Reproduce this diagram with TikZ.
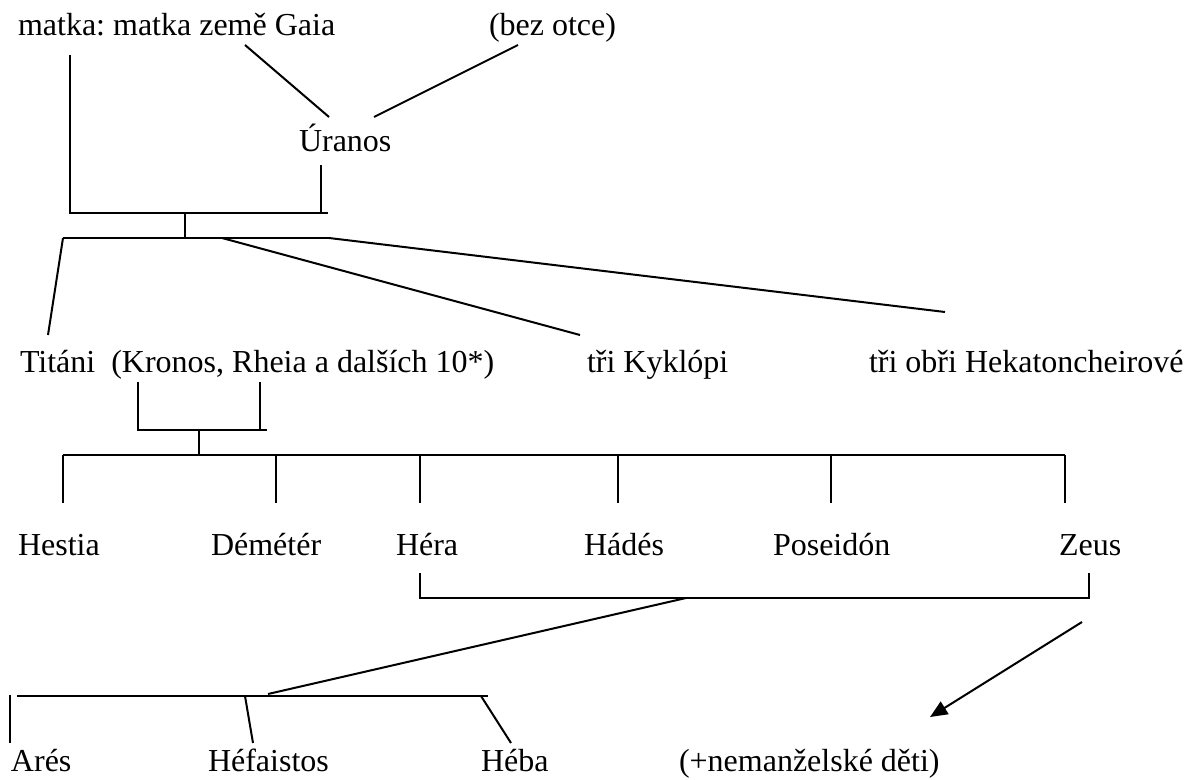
\documentclass[tikz,border=0pt]{standalone}
\usepackage{fontspec}
\setmainfont{Liberation Serif}
\usetikzlibrary{arrows.meta}
\frenchspacing

\tikzset{every picture/.style={line width=1.5pt}}
\tikzset{godname/.style={anchor=base west,inner sep=0pt,font=\fontsize{24}{28}\selectfont}}

\begin{document}
\begin{tikzpicture}[x=0.75pt,y=0.75pt,yscale=-1,xscale=1]
	%set diagram left start at 0, and has height of 780
	\useasboundingbox (0,0) rectangle (1184,780);
	
	% Text Node
	\node[godname] (gaia) at (17,36) {matka: matka země Gaia};
	% Text Node
	\node[godname] (bezotce) at (488,36) {(bez otce)};
	% Text Node
	\node[godname] (uranos) at (298,152) {Úranos};
	% Text Node
	\node[godname] (titani) at (19,373) {Titáni\ \ (Kronos, Rheia a dalších 10*)};
	% Text Node
	\node[godname] (kyklopi) at (586,373) {tři Kyklópi};
	% Text Node
	\node[godname] (hekaton) at (868,373) {tři obři Hekatoncheirové};
	% Text Node
	\node[godname] (hestia) at (17,555) {Hestia};
	% Text Node
	\node[godname] (demeter) at (210,555) {Démétér};
	% Text Node
	\node[godname] (hera) at (395,555) {Héra};
	% Text Node
	\node[godname] (hades) at (583,555) {Hádés};
	% Text Node
	\node[godname] (poseidon) at (772,555) {Poseidón};
	% Text Node
	\node[godname] (zeus) at (1058,555) {Zeus};
	% Text Node
	\node[godname] (ares) at (10,771) {Arés};
	% Text Node
	\node[godname] (hefaistos) at (207,771) {Héfaistos};
	% Text Node
	\node[godname] (heba) at (480,771) {Héba};
	% Text Node
	\node[godname] (nemanzel) at (678,771) {(+nemanželské děti)};
	
	% Coordinates
	\coordinate (gaiatop) at (70,55);
	\coordinate (gaiacorner) at (70,213);
	\coordinate (uranostop) at (321,165);
	\coordinate (uranosfoot) at (321,213);
	\coordinate (parentsend) at (328,213);
	\coordinate (parentsmid) at (185,213);
	\coordinate (childrenmid) at (185,238);
	\coordinate (childrenleft) at (63,238);
	\coordinate (childrenkyk) at (222,238);
	\coordinate (childrenright) at (329,238);
	\coordinate (titanitop) at (48,335);
	\coordinate (kyklopitop) at (580,335);
	\coordinate (hekatontop) at (945,312);
	\coordinate (gaiadiag) at (245,45);
	\coordinate (uranosleft) at (329,117);
	\coordinate (uranosright) at (374,117);
	\coordinate (bezdiag) at (518,45);
	\coordinate (kronos) at (138,382);
	\coordinate (kronoscorner) at (138,430);
	\coordinate (rheia) at (260,382);
	\coordinate (rheiafoot) at (260,430);
	\coordinate (kronosend) at (267,430);
	\coordinate (kronosmid) at (199,430);
	\coordinate (olympmid) at (199,455);
	\coordinate (olympleft) at (63,455);
	\coordinate (olympright) at (1065,455);
	\coordinate (herafoot) at (420,573);
	\coordinate (heracorner) at (420,598);
	\coordinate (zeusfoot) at (1089,573);
	\coordinate (zeuscorner) at (1089,598);
	\coordinate (marriagemid) at (686,598);
	\coordinate (sonsjoin) at (268,694);
	\coordinate (sonsleft) at (17,696);
	\coordinate (sonsright) at (488,696);
	\coordinate (arestop) at (10,695);
	\coordinate (aresfoot) at (10,743);
	\coordinate (hefjoin) at (245,696);
	\coordinate (heftop) at (253,743);
	\coordinate (hebajoin) at (481,696);
	\coordinate (hebatop) at (511,743);
	\coordinate (arrowstart) at (1082,622);
	\coordinate (arrowend) at (930,717);
	
	%Straight Lines Gaia + Uranos
	\draw (gaiatop) -- (gaiacorner) -- (parentsend) ;
	\draw (uranostop) -- (uranosfoot) ;
	\draw (gaiadiag) -- (uranosleft) ;
	\draw (bezdiag) -- (uranosright) ;
	\draw (parentsmid) -- (childrenmid) ;
	\draw (childrenleft) -- (childrenright) ;
	%Straight Lines to Titans, Cyclopes, Hecatoncheires
	\draw (childrenleft) -- (titanitop) ;
	\draw (childrenkyk) -- (kyklopitop) ;
	\draw (childrenright) -- (hekatontop) ;
	%Straight Lines Kronos + Rheia
	\draw (kronos) -- (kronoscorner) -- (kronosend) ;
	\draw (rheia) -- (rheiafoot) ;
	\draw (kronosmid) -- (olympmid) ;
	\draw (olympleft) -- (olympright) ;
	%Straight Lines to the six children
	\draw (olympleft) -- (63,503) ;
	\draw (276,455) -- (276,503) ;
	\draw (420,455) -- (420,503) ;
	\draw (618,455) -- (618,503) ;
	\draw (831,455) -- (831,503) ;
	\draw (olympright) -- (1065,503) ;
	%Straight Lines Hera + Zeus
	\draw (herafoot) -- (heracorner) -- (zeuscorner) -- (zeusfoot) ;
	\draw (marriagemid) -- (sonsjoin) ;
	\draw (sonsleft) -- (sonsright) ;
	\draw (arestop) -- (aresfoot) ;
	\draw (hefjoin) -- (heftop) ;
	\draw (hebajoin) -- (hebatop) ;
	%Arrow
	\draw [-{Triangle[length=13pt,width=11pt]}] (arrowstart) -- (arrowend) ;
	
\end{tikzpicture}
\end{document}
